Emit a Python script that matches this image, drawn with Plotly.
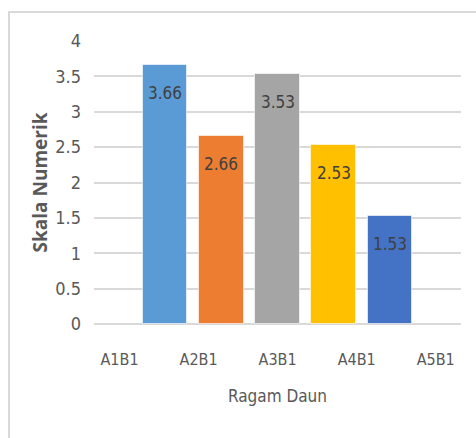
import plotly.graph_objects as go

categories = ["A1B1", "A2B1", "A3B1", "A4B1", "A5B1"]
values = [3.66, 2.66, 3.53, 2.53, 1.53]
labels = ["3.66", "2.66", "3.53", "2.53", "1.53"]
colors = ["#5B9BD5", "#ED7D31", "#A5A5A5", "#FFC000", "#4472C4"]
bar_pos = [0, 1, 2, 3, 4]
y_ticks = [0, 0.5, 1, 1.5, 2, 2.5, 3, 3.5, 4]
y_ticktext = ["0", "0.5", "1", "1.5", "2", "2.5", "3", "3.5", "4"]

NARROW = "DejaVu Sans Condensed"

fig = go.Figure()
fig.add_trace(go.Bar(
    x=bar_pos, y=values, width=0.79,
    marker=dict(color=colors, line=dict(color="rgba(255,255,255,0.6)", width=1)),
    hoverinfo="skip", showlegend=False,
))
fig.add_trace(go.Scatter(
    x=categories, y=[None] * len(categories), xaxis="x2", yaxis="y",
    mode="markers", showlegend=False, hoverinfo="skip",
))

for xp, v, t in zip(bar_pos, values, labels):
    fig.add_annotation(x=xp, y=v, text=t, showarrow=False, yshift=-28,
                       font=dict(family=NARROW, size=17, color="#404040"))

fig.update_layout(
    width=476, height=438,
    margin=dict(l=94, r=15, t=41, b=114),
    paper_bgcolor="white", plot_bgcolor="white",
    bargap=0,
    xaxis=dict(range=[-1.27, 5.27], showticklabels=False, showgrid=False,
               zeroline=False, showline=False, fixedrange=True),
    xaxis2=dict(type="category", categoryarray=categories, overlaying="x",
                side="bottom", anchor="y", range=[-0.323, 4.32],
                showgrid=False, zeroline=False, showline=False,
                tickfont=dict(family=NARROW, size=16, color="#595959"),
                ticklabelstandoff=24,
                title=dict(text="Ragam Daun", standoff=22,
                           font=dict(family=NARROW, size=17, color="#595959"))),
    yaxis=dict(range=[0, 4], tickvals=y_ticks, ticktext=y_ticktext,
               showgrid=True, gridcolor="#D9D9D9", gridwidth=1.5,
               zeroline=True, zerolinecolor="#D9D9D9", zerolinewidth=1.5,
               showline=False, ticklabelstandoff=12,
               tickfont=dict(family=NARROW, size=18, color="#595959"),
               title=dict(text="<b>Skala Numerik</b>", standoff=2,
                          font=dict(family="Open Sans", size=19,
                                    color="#595959"))),
    shapes=[dict(type="rect", xref="paper", yref="paper",
                 x0=-0.2316, x1=1.3, y0=-0.6, y1=1.1025,
                 line=dict(color="#D9D9D9", width=2), layer="below")],
)

fig.write_html("out.html")
